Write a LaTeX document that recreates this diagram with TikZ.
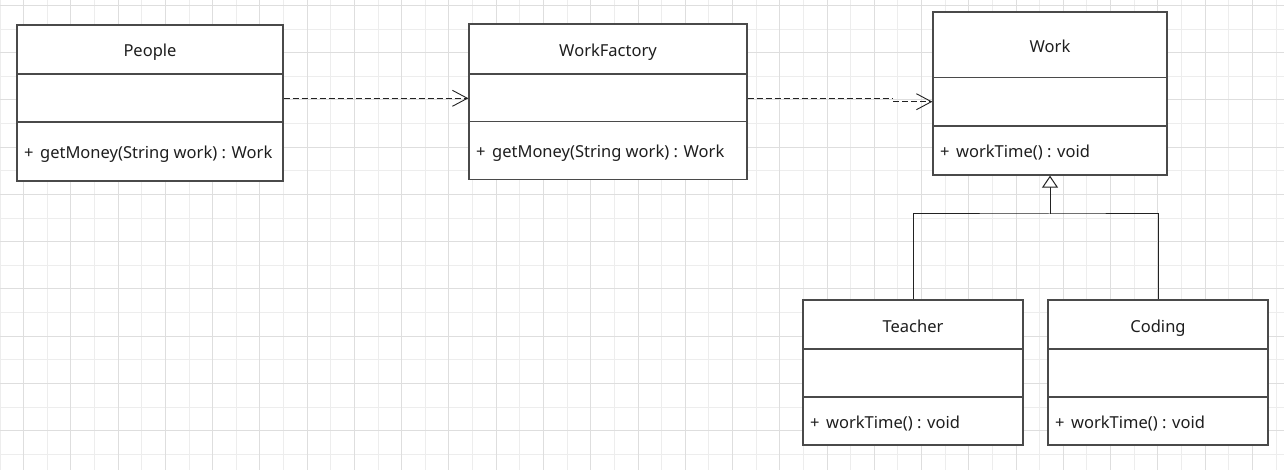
\documentclass[tikz,border=0pt]{standalone}
\usepackage{fontspec}
\setmainfont{Noto Sans}
\usetikzlibrary{arrows.meta,calc}
\definecolor{gridA}{HTML}{DEDEDE}
\definecolor{gridB}{HTML}{EDEDED}
\definecolor{boxline}{HTML}{4A4A4A}
\definecolor{txt}{HTML}{1E1E1E}
\definecolor{conn}{HTML}{222222}
\tikzset{
  classbox/.style={draw=boxline, line width=1.3pt, fill=white, inner sep=0pt},
  sepline/.style={draw=boxline, line width=1.3pt},
  classtitle/.style={font=\fontsize{16.5}{19}\selectfont, text=txt, inner sep=0pt, anchor=base},
  member/.style={font=\fontsize{16.5}{19}\selectfont, text=txt, inner sep=0pt, anchor=base west},
  dep/.style={draw=conn, line width=0.9pt, dash pattern=on 6pt off 3pt},
  deptip/.style={-{Straight Barb[length=15pt,width=16pt,line width=0.9pt]}},
  gen/.style={draw=conn, line width=1pt},
  gentip/.style={-{Triangle[open,length=12pt,width=16pt,fill=white,line width=1pt]}},
}
\newcommand\umlclass[9]{%
  \node[classbox, minimum width={#4-#2}, minimum height={#5-#3}] (#1) at ({(#2+#4)/2},{(#3+#5)/2}) {};
  \draw[sepline] (#2,#6) -- (#4,#6);
  \draw[sepline] (#2,#7) -- (#4,#7);
  \node[classtitle] (#1-title) at ({(#2+#4)/2},{(#3+#6)/2+7.5}) {#8};
  \node[member] (#1-ops) at ({#2+7},{(#7+#5)/2+7.5}) {#9};
}
\begin{document}
\begin{tikzpicture}[x=1pt,y=-1pt]
\fill[white] (0,0) rectangle (1284,470);
\useasboundingbox (0,0) rectangle (1284,470);
% grid
\foreach \k in {0,2,...,54} {\draw[gridB, line width=1pt] ({23.63*\k},0) -- ({23.63*\k},470);}
\foreach \k in {1,3,...,19} {\draw[gridB, line width=1pt] (0,{5.5+23.62*\k}) -- (1284,{5.5+23.62*\k});}
\foreach \k in {1,3,...,53} {\draw[gridA, line width=1pt] ({23.63*\k},0) -- ({23.63*\k},470);}
\foreach \k in {0,2,...,18} {\draw[gridA, line width=1pt] (0,{5.5+23.62*\k}) -- (1284,{5.5+23.62*\k});}
% classes
\umlclass{people}{17}{25}{283}{181}{74}{122}{People}{+\hspace{6.5pt}getMoney(String work) : Work}
\umlclass{wf}{469}{24}{747}{179.5}{74}{121.5}{WorkFactory}{+\hspace{6.5pt}getMoney(String work) : Work}
\umlclass{work}{933}{12}{1167}{175}{77.5}{126}{Work}{+\hspace{6.5pt}workTime() : void}
\umlclass{teacher}{803}{300}{1023}{445}{349}{397}{Teacher}{+\hspace{6.5pt}workTime() : void}
\umlclass{coding}{1048}{300}{1268}{445}{349}{397}{Coding}{+\hspace{6.5pt}workTime() : void}
% dependencies
\draw[dep, deptip] ([yshift=4.7pt]people.east) -- ([yshift=3.45pt]wf.west);
\coordinate (jog) at (893,98.3);
\draw[dep] ([yshift=3.45pt]wf.east) -- (jog);
\draw[dep, deptip] (jog |- 0,101.7) -- ([yshift=-8.2pt]work.west);
% generalization
\coordinate (join) at (1050,214);
\draw[gen] (teacher.north) |- (join) -| (coding.north);
\draw[gen, gentip] (join) -- (work.south);
\end{tikzpicture}
\end{document}
